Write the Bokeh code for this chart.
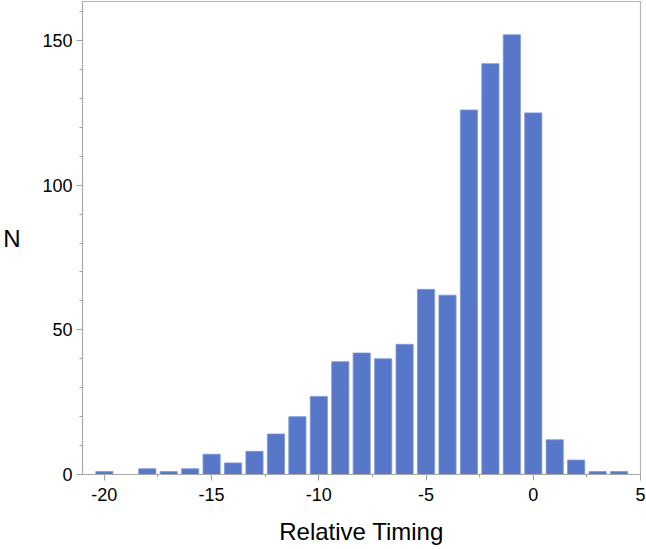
from bokeh.plotting import figure
from bokeh.embed import file_html
from bokeh.resources import INLINE
from bokeh.models import Range1d, FixedTicker, ColumnDataSource, CustomJSTickFormatter

# Data
timing = [-20, -19, -18, -17, -16, -15, -14, -13, -12, -11, -10, -9, -8, -7, -6,
          -5, -4, -3, -2, -1, 0, 1, 2, 3, 4]
counts = [1, 0, 2, 1, 2, 7, 4, 8, 14, 20, 27, 39, 42, 40, 45,
          64, 62, 126, 142, 152, 125, 12, 5, 1, 1]
x_ticks = [-20, -15, -10, -5, 0, 5]
y_ticks = [0, 50, 100, 150]

src = ColumnDataSource(dict(x=timing, top=counts))

p = figure(width=646, height=549, output_backend="svg", toolbar_location=None,
           x_range=Range1d(-21.02, 5), y_range=Range1d(0, 163.5),
           min_border_left=77, min_border_right=6, min_border_top=1, min_border_bottom=75)

p.vbar(x="x", top="top", bottom=0, width=0.8, source=src,
       fill_color="#5777c8", line_color="#7d97d6", line_width=0.8)

p.xgrid.visible = False
p.ygrid.visible = False
p.outline_line_color = "#b4b4b4"
p.outline_line_width = 1.2

FONT = "Liberation Sans"
fmt = CustomJSTickFormatter(code="return tick.toString();")
for ax in (p.xaxis[0], p.yaxis[0]):
    ax.axis_line_color = "#a8a8a8"
    ax.major_tick_line_color = "#a0a0a0"
    ax.minor_tick_line_color = "#a0a0a0"
    ax.major_tick_out = 6
    ax.major_tick_in = 0
    ax.minor_tick_out = 3
    ax.minor_tick_in = 0
    ax.major_label_text_font = FONT
    ax.major_label_text_font_size = "18px"
    ax.major_label_text_color = "black"
    ax.axis_label_text_font = FONT
    ax.axis_label_text_font_size = "24px"
    ax.axis_label_text_font_style = "normal"
    ax.axis_label_text_color = "black"
    ax.formatter = fmt

p.xaxis.ticker = FixedTicker(ticks=x_ticks, minor_ticks=[-20 + 2.5 * i for i in range(11)])
p.yaxis.ticker = FixedTicker(ticks=y_ticks, minor_ticks=list(range(0, 170, 10)))

p.xaxis.axis_label = "Relative Timing"
p.xaxis.major_label_standoff = 7
p.xaxis.axis_label_standoff = 14
p.yaxis.axis_label = "N"
p.yaxis.axis_label_orientation = "horizontal"
p.yaxis.major_label_standoff = 4
p.yaxis.axis_label_standoff = 19

open("out.html", "w").write(file_html(p, INLINE))
